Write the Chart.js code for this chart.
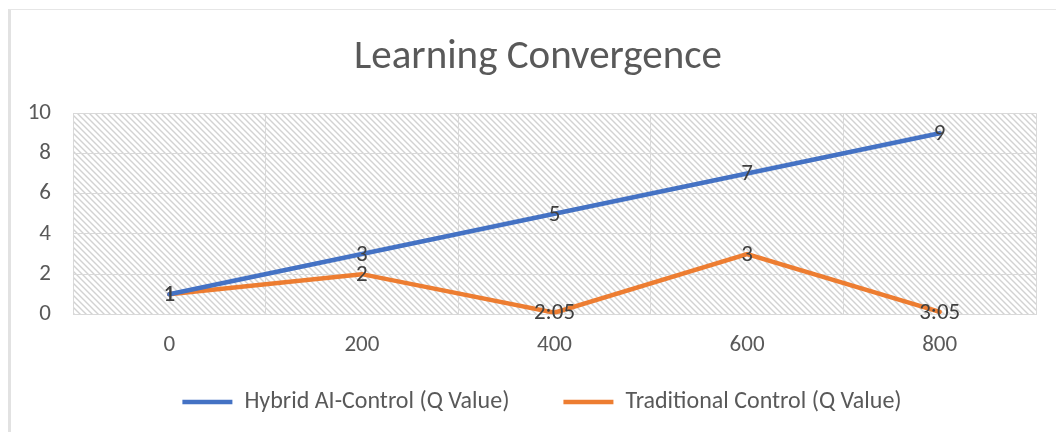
<!DOCTYPE html>
<html lang="en">
<head>
  <meta charset="UTF-8" />
  <title>Learning Convergence</title>
  <script src="https://cdn.jsdelivr.net/npm/chart.js"></script>
  <style>
    html, body {
      margin: 0;
      padding: 0;
      background: #ffffff;
    }
    #frame {
      position: absolute;
      left: 8px;
      top: 9px;
      width: 1060px;
      height: 440px;
      border-left: 3px solid #e2e2e2;
      border-top: 1px solid #e6e6e6;
    }
    #wrap {
      position: absolute;
      left: 0;
      top: 0;
      width: 1056px;
      height: 432px;
    }
  </style>
</head>
<body>
  <div id="frame"></div>
  <div id="wrap"><canvas id="chart"></canvas></div>

  <script>
    const categories = ['0', '200', '400', '600', '800'];
    const hybridValues = [1, 3, 5, 7, 9];
    // 2:05 and 3:05 were typed as times, so they sit just above zero
    const traditionalValues = [1, 2, 0.087, 3, 0.128];
    const hybridLabels = ['1', '3', '5', '7', '9'];
    const traditionalLabels = ['1', '2', '2:05', '3', '3:05'];

    const FONT = 'Carlito, Calibri, Lato, sans-serif';

    function makeHatch() {
      const c = document.createElement('canvas');
      c.width = 6;
      c.height = 6;
      const g = c.getContext('2d');
      g.fillStyle = '#ffffff';
      g.fillRect(0, 0, 6, 6);
      g.strokeStyle = '#d2d2d2';
      g.lineWidth = 1.4;
      g.beginPath();
      g.moveTo(-1, -1); g.lineTo(7, 7);
      g.moveTo(-4, 2); g.lineTo(4, 10);
      g.moveTo(2, -4); g.lineTo(10, 4);
      g.stroke();
      return c;
    }

    const hatchPlugin = {
      id: 'hatch',
      beforeDraw(chart) {
        const { ctx, chartArea: a } = chart;
        ctx.save();
        ctx.fillStyle = ctx.createPattern(makeHatch(), 'repeat');
        ctx.fillRect(a.left, a.top, a.right - a.left, a.bottom - a.top);
        ctx.restore();
      }
    };

    // title and legend sit a little right of the plot centre in the original
    const shiftPlugin = {
      id: 'shiftBoxes',
      afterLayout(chart) {
        const t = chart.titleBlock;
        t.left += 15; t.right += 15;
        const l = chart.legend;
        l.left += 19; l.right += 19;
        l.top = 336; l.bottom = 432;
      }
    };

    const labelPlugin = {
      id: 'pointLabels',
      afterDatasetsDraw(chart) {
        const ctx = chart.ctx;
        ctx.save();
        ctx.font = '23px ' + FONT;
        ctx.fillStyle = '#404040';
        ctx.textAlign = 'center';
        ctx.textBaseline = 'middle';
        chart.data.datasets.forEach((ds, i) => {
          chart.getDatasetMeta(i).data.forEach((pt, j) => {
            ctx.fillText(ds.pointText[j], pt.x, pt.y + 1);
          });
        });
        ctx.restore();
      }
    };

    new Chart(document.getElementById('chart'), {
      type: 'line',
      data: {
        labels: categories,
        datasets: [
          {
            label: 'Hybrid AI-Control (Q Value)',
            data: hybridValues,
            pointText: hybridLabels,
            borderColor: '#4472C4',
            backgroundColor: '#4472C4',
            borderWidth: 4.5,
            borderCapStyle: 'round',
            pointRadius: 0,
            tension: 0
          },
          {
            label: 'Traditional Control (Q Value)',
            data: traditionalValues,
            pointText: traditionalLabels,
            borderColor: '#ED7D31',
            backgroundColor: '#ED7D31',
            borderWidth: 4.5,
            borderCapStyle: 'round',
            pointRadius: 0,
            tension: 0
          }
        ]
      },
      options: {
        responsive: true,
        maintainAspectRatio: false,
        animation: false,
        layout: { padding: { left: 10, right: 20, top: 0, bottom: 0 } },
        plugins: {
          title: {
            display: true,
            text: 'Learning Convergence',
            color: '#595959',
            font: { family: FONT, size: 41, weight: 'normal' },
            padding: { top: 33, bottom: 31 }
          },
          legend: {
            position: 'bottom',
            maxHeight: 56,
            labels: {
              color: '#595959',
              font: { family: FONT, size: 24 },
              usePointStyle: true,
              pointStyle: 'line',
              pointStyleWidth: 50,
              padding: 54
            }
          },
          tooltip: { enabled: false }
        },
        scales: {
          x: {
            offset: true,
            grid: { offset: true, color: '#d9d9d9', drawTicks: false },
            border: { color: '#d9d9d9' },
            ticks: { color: '#595959', font: { family: FONT, size: 23 }, padding: 17 }
          },
          y: {
            min: 0,
            max: 10,
            afterFit(scale) { scale.width = 63; },
            grid: { color: '#d9d9d9', drawTicks: false },
            border: { display: false },
            ticks: { stepSize: 2, color: '#595959', font: { family: FONT, size: 23 }, padding: 22 }
          }
        }
      },
      plugins: [hatchPlugin, shiftPlugin, labelPlugin]
    });
  </script>
</body>
</html>
